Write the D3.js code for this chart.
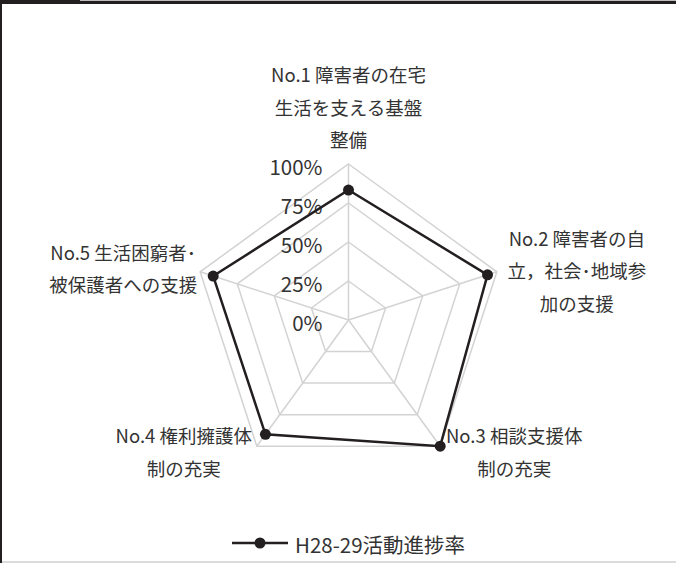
<!DOCTYPE html>
<html>
<head>
<meta charset="utf-8">
<script src="https://cdn.jsdelivr.net/npm/d3@7/dist/d3.min.js"></script>
<style>
  html, body { margin: 0; padding: 0; background: #fff; }
  svg { display: block; }
  text { font-family: "Noto Sans CJK JP", "Noto Sans", sans-serif; fill: #333; }
</style>
</head>
<body>
<svg id="chart" width="676" height="563"></svg>
<script>
// Axis categories (each entry split into its display lines)
const categories = [
  ["No.1 障害者の在宅", "生活を支える基盤", "整備"],
  ["No.2 障害者の自", "立，社会･地域参", "加の支援"],
  ["No.3 相談支援体", "制の充実"],
  ["No.4 権利擁護体", "制の充実"],
  ["No.5 生活困窮者･", "被保護者への支援"]
];
// Progress rate per category (fraction of 100%)
const progress = [0.833, 0.937, 1.0, 0.906, 0.912];
const seriesName = "H28-29活動進捗率";
const tickValues = [0, 0.25, 0.5, 0.75, 1];
const tickLabels = ["0%", "25%", "50%", "75%", "100%"];

const svg = d3.select("#chart");
const W = 676, H = 563;

// Frame
svg.append("rect").attr("x", 0).attr("y", 0).attr("width", W).attr("height", 4).attr("fill", "#231f20");
svg.append("rect").attr("x", 80).attr("y", 0).attr("width", W - 80).attr("height", 1).attr("fill", "#bdbdbd");
svg.append("rect").attr("x", 0).attr("y", 0).attr("width", 2).attr("height", H).attr("fill", "#231f20");
svg.append("rect").attr("x", 2).attr("y", H - 2).attr("width", W - 2).attr("height", 2).attr("fill", "#dcdcdc");

const cx = 348.5, cy = 320;
const r = d3.scaleLinear().domain([0, 1]).range([0, 156]);
const angle = d3.scaleLinear().domain([0, categories.length]).range([-Math.PI / 2, 1.5 * Math.PI]);
const pt = (i, v) => [cx + r(v) * Math.cos(angle(i)), cy + r(v) * Math.sin(angle(i))];

const g = svg.append("g");

// Grid pentagons
const idx = d3.range(categories.length);
tickValues.filter(t => t > 0).forEach(t => {
  g.append("polygon")
    .attr("points", idx.map(i => pt(i, t).join(",")).join(" "))
    .attr("fill", "none").attr("stroke", "#d3d3d3").attr("stroke-width", 1.5);
});
// Spokes
idx.forEach(i => {
  const [x, y] = pt(i, 1);
  g.append("line").attr("x1", cx).attr("y1", cy).attr("x2", x).attr("y2", y)
    .attr("stroke", "#d3d3d3").attr("stroke-width", 1.5);
});

// Radial tick labels
tickValues.forEach((t, k) => {
  g.append("text")
    .attr("x", cx - 26).attr("y", cy - r(t) + 2)
    .attr("text-anchor", "end").attr("dominant-baseline", "central")
    .style("font-size", "20.5px")
    .text(tickLabels[k]);
});

// Series line
const line = d3.line().curve(d3.curveLinearClosed);
g.append("path")
  .attr("d", line(progress.map((v, i) => pt(i, v))))
  .attr("fill", "none").attr("stroke", "#231f20").attr("stroke-width", 2.5)
  .attr("stroke-linejoin", "miter");
g.selectAll("circle.pt").data(progress).join("circle")
  .attr("class", "pt")
  .attr("cx", (v, i) => pt(i, v)[0]).attr("cy", (v, i) => pt(i, v)[1])
  .attr("r", 5.5).attr("fill", "#231f20");

// Category labels placed relative to each outer vertex
const labelOffset = [
  { dx: 0, dy: -90 },
  { dx: 80, dy: -34 },
  { dx: 74, dy: -11 },
  { dx: -73, dy: -11 },
  { dx: -77, dy: -20 }
];
const lineGap = 32.5;
categories.forEach((lines, i) => {
  const [vx, vy] = pt(i, 1);
  const t = g.append("text")
    .attr("text-anchor", "middle").attr("dominant-baseline", "central")
    .style("font-size", "18.5px");
  lines.forEach((s, j) => {
    t.append("tspan")
      .attr("x", vx + labelOffset[i].dx)
      .attr("y", vy + labelOffset[i].dy + j * lineGap)
      .text(s);
  });
});

// Legend
const lg = svg.append("g");
lg.append("line").attr("x1", 232).attr("x2", 288).attr("y1", 543).attr("y2", 543)
  .attr("stroke", "#231f20").attr("stroke-width", 2.5);
lg.append("circle").attr("cx", 260).attr("cy", 543).attr("r", 5.5).attr("fill", "#231f20");
lg.append("text").attr("x", 295).attr("y", 544).attr("dominant-baseline", "central")
  .style("font-size", "20.5px").text(seriesName);
</script>
</body>
</html>
